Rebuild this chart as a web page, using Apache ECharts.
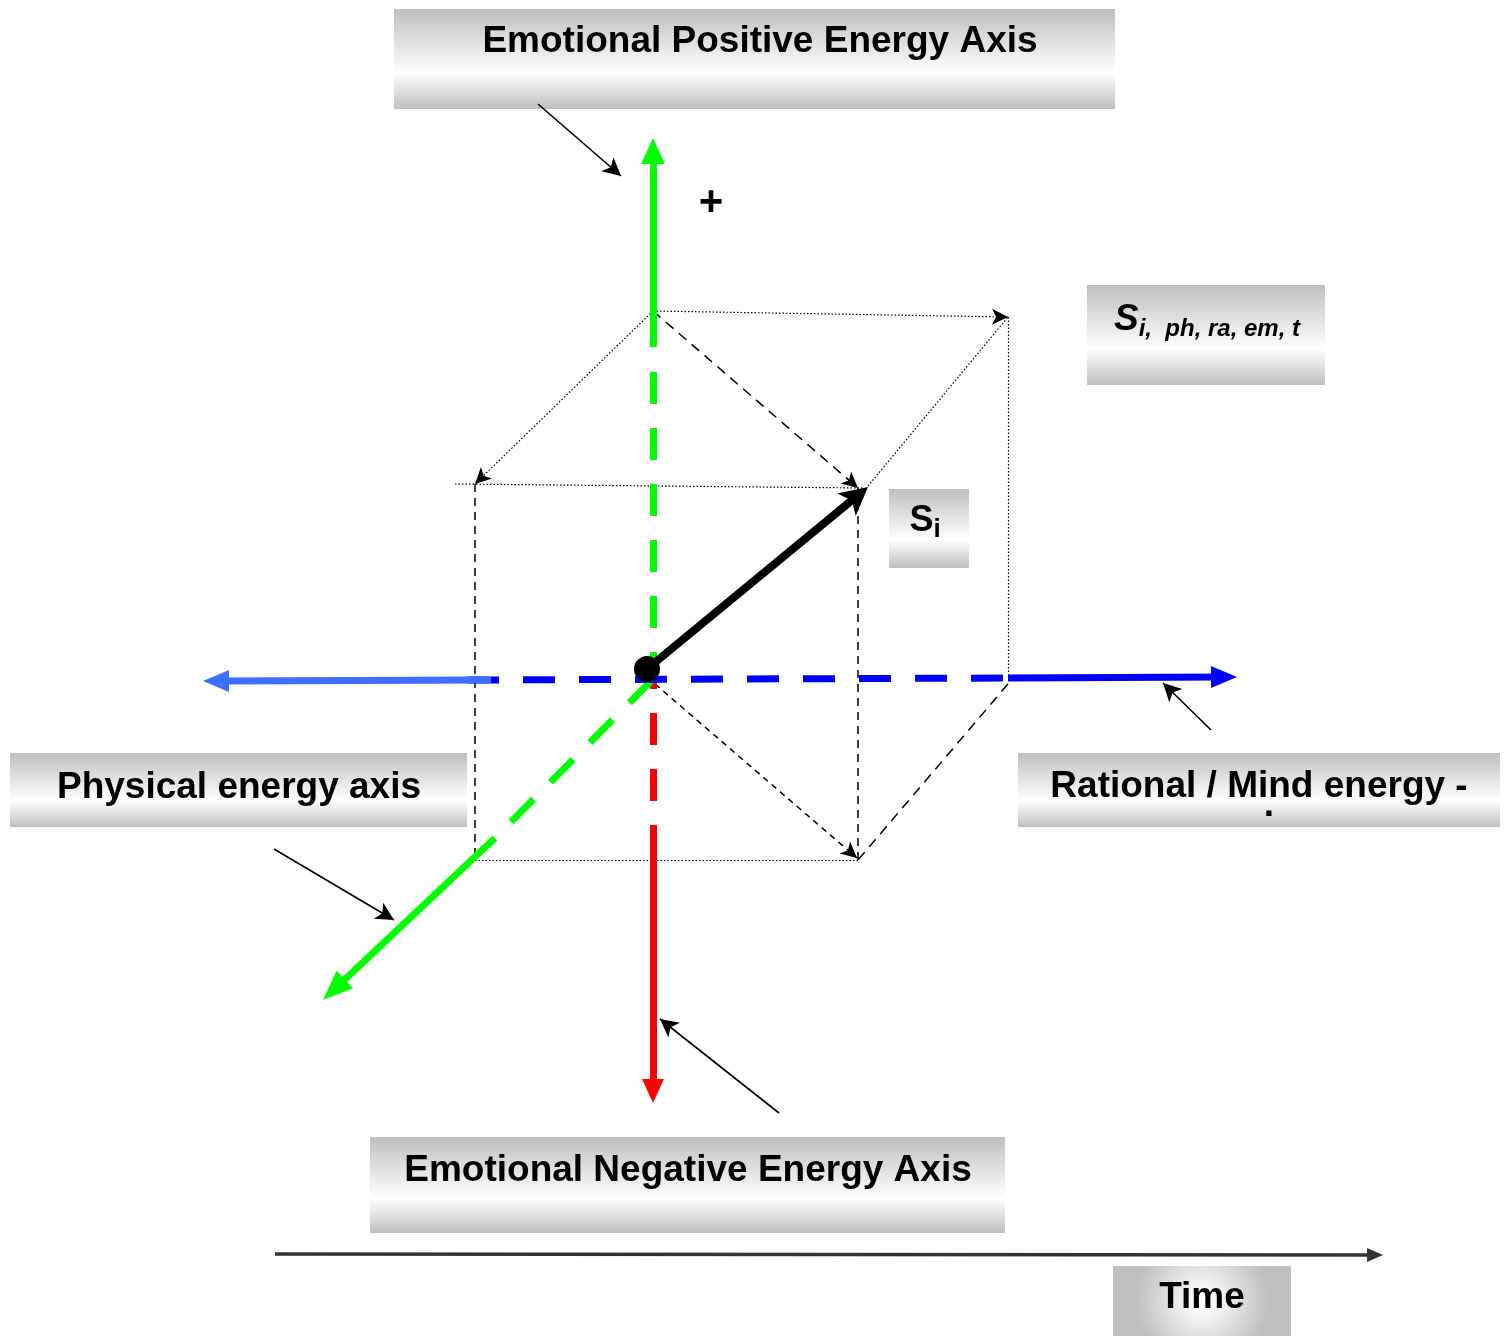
<!DOCTYPE html>
<html>
<head>
    <meta charset="utf-8"/>
    <title>Energy axes</title>
    <style>
        body { margin: 0; background: #fff; }
        #chart { width: 1508px; height: 1336px; }
    </style>
</head>
<body>
<div id="chart"></div>
<script src="https://cdn.jsdelivr.net/npm/echarts/dist/echarts.min.js"></script>
<script>
    // picture units: x to the right, y downwards (y axis is inverted)
    // corners of the projected cube
    var cubeA = [653, 311];   // top, on the emotional axis
    var cubeB = [1008, 317];  // top right back
    var cubeC = [475, 484];   // top left front
    var cubeD = [858, 488];   // top right front
    var cubeE = [475, 860];
    var cubeF = [858, 860];
    var cubeG = [1008, 678];  // on the rational axis
    var stateOrigin = [647, 669];
    var stateTip = [868, 487];

    // the four energy axes, split where they change from dashed to solid
    var emoPosSolid = [[653, 347], [653, 138]];
    var emoPosDash = [[653, 372], [653, 680]];
    var emoNegDash = [[653, 657], [653, 825]];
    var emoNegSolid = [[653, 825], [653, 1103]];
    var physDash = [[652, 680], [495, 838]];
    var physSolid = [[495, 838], [323, 1000]];
    var ratLeft = [[491, 680], [203, 681]];
    var ratDash = [[467, 680], [1008, 678]];
    var ratRight = [[1008, 678], [1237, 677]];
    var timeAxis = [[275, 1254], [1383, 1255]];

    // small arrows from the labels to the axes
    var pointers = [
        [[538, 104], [621, 176]],
        [[1211, 730], [1163, 683]],
        [[274, 849], [394, 920]],
        [[779, 1113], [660, 1019]]
    ];

    var boxNames = ['Emotional Positive Energy Axis', '{si|S}{sub|i,  ph, ra, em, t}', '{s|S}{sub2|i}',
        'Physical energy axis', 'Rational / Mind energy -', 'Emotional Negative Energy Axis', 'Time'];
    var boxRects = [[394, 9, 1115, 109], [1087, 285, 1325, 385], [889, 489, 969, 568],
        [10, 753, 467, 827], [1018, 753, 1500, 827], [370, 1137, 1005, 1233], [1113, 1266, 1291, 1336]];
    var boxTextAt = [[760, 42], [1207, 320], [925, 521], [239, 788], [1259, 787], [688, 1171], [1202, 1298]];

    var extraText = ['+', '.'];
    var extraAt = [[711, 203], [1269, 806]];
    var extraSize = [42, 37];

    var FONT = '"Liberation Sans", Arial, sans-serif';

    // move the line end back so that a centred head of length len ends on the tip
    function toHead(from, tip, len) {
        var dx = tip[0] - from[0], dy = tip[1] - from[1];
        var d = Math.sqrt(dx * dx + dy * dy);
        return [tip[0] - dx / d * len / 2, tip[1] - dy / d * len / 2];
    }

    function seg(from, to, style, head) {
        var item = {coords: [from, to], lineStyle: style};
        if (head) {
            // the 'arrow' symbol already ends on the line end, the triangle is centred on it
            if (head[2] === 'triangle') item.coords = [from, toHead(from, to, head[1])];
            item.symbol = ['none', head[2]];
            item.symbolSize = [0, [head[0], head[1]]];
        }
        return item;
    }

    var dotted = {color: '#000', width: 1.2, type: [1.5, 2], opacity: 1};
    var dashed = {color: '#000', width: 1.5, type: [8, 6], opacity: 1};
    var dashedLong = {color: '#000', width: 1.5, type: [10, 7], opacity: 1};
    var dashedShort = {color: '#000', width: 1.5, type: [6, 5], opacity: 1};
    var smallHead = [12, 16, 'arrow'];

    var cubeLines = [
        seg(cubeC, cubeE, dashed),
        seg(cubeD, cubeF, dashed),
        seg([455, 484], [864, 488], dotted),
        seg(cubeE, cubeF, dotted),
        seg([868, 486], cubeB, dotted),
        seg(cubeB, cubeG, dotted),
        seg([1008, 684], cubeF, dashedLong),
        seg(cubeA, cubeB, dotted, smallHead),
        seg(cubeA, cubeC, dotted, smallHead),
        seg(cubeA, cubeD, dashedLong, smallHead),
        seg([655, 684], [857, 858], dashedShort, smallHead)
    ];

    var green = '#00ff00', red = '#ff0000', blue = '#0000ff', lightBlue = '#3c6eff';
    var axisDash = [32, 24];
    function axisStyle(color, type) {
        return {color: color, width: 7, type: type, opacity: 1};
    }
    var axisLines = [
        seg(emoNegDash[0], emoNegDash[1], axisStyle(red, axisDash)),
        seg(emoNegSolid[0], emoNegSolid[1], axisStyle(red, 'solid'), [22, 24, 'triangle']),
        seg(emoPosSolid[0], emoPosSolid[1], axisStyle(green, 'solid'), [24, 26, 'triangle']),
        seg(emoPosDash[0], emoPosDash[1], axisStyle(green, axisDash)),
        seg(physDash[0], physDash[1], axisStyle(green, axisDash)),
        seg(physSolid[0], physSolid[1], axisStyle(green, 'solid'), [24, 30, 'triangle']),
        seg(ratDash[0], ratDash[1], axisStyle(blue, axisDash)),
        seg(ratRight[0], ratRight[1], axisStyle(blue, 'solid'), [22, 26, 'triangle']),
        seg(ratLeft[0], ratLeft[1], axisStyle(lightBlue, 'solid'), [22, 26, 'triangle'])
    ];

    var otherLines = [seg(timeAxis[0], timeAxis[1], {color: '#333', width: 3.5, type: 'solid', opacity: 1}, [14, 16, 'triangle'])];
    pointers.forEach(function (p) {
        otherLines.push(seg(p[0], p[1], {color: '#000', width: 1.6, type: 'solid', opacity: 1}, [14, 18, 'arrow']));
    });

    // the state vector: a thick shaft stopping inside the head, and the head itself
    var vectorLines = [
        seg(stateOrigin, toHead(stateOrigin, stateTip, 24), {color: '#000', width: 8, type: 'solid', opacity: 1}),
        seg(stateOrigin, stateTip, {color: '#000', width: 0, type: 'solid', opacity: 1}, [22, 28, 'arrow'])
    ];

    var linearFill = {
        type: 'linear', x: 0, y: 0, x2: 0, y2: 1,
        colorStops: [{offset: 0, color: '#bfbfbf'}, {offset: 0.64, color: '#ffffff'}, {offset: 1, color: '#bfbfbf'}]
    };
    var radialFill = {
        type: 'radial', x: 0.5, y: 0.5, r: 0.95,
        colorStops: [{offset: 0, color: '#ffffff'}, {offset: 0.25, color: '#f4f4f4'}, {offset: 1, color: '#bfbfbf'}]
    };
    var rich = {
        si: {fontSize: 37, fontWeight: 'bold', fontStyle: 'italic', fontFamily: FONT},
        sub: {fontSize: 24, fontWeight: 'bold', fontStyle: 'italic', fontFamily: FONT, padding: [19, 0, 0, 0]},
        s: {fontSize: 36, fontWeight: 'bold', fontFamily: FONT},
        sub2: {fontSize: 26, fontWeight: 'bold', fontFamily: FONT, padding: [17, 0, 0, 0]}
    };

    var myChart = echarts.init(document.getElementById('chart'));
    var option = {
        animation: false,
        backgroundColor: '#fff',
        grid: {left: 0, right: 0, top: 0, bottom: 0},
        xAxis: {type: 'value', min: 0, max: 1508, show: false},
        yAxis: {type: 'value', min: 0, max: 1336, inverse: true, show: false},
        series: [
            {
                type: 'custom',
                coordinateSystem: 'cartesian2d',
                silent: true,
                z: 1,
                clip: false,
                data: boxRects.map(function (b, i) {
                    return [b[0], b[1], b[2], b[3], boxTextAt[i][0], boxTextAt[i][1]];
                }),
                renderItem: function (params, api) {
                    var i = params.dataIndex;
                    var p1 = api.coord([api.value(0), api.value(1)]);
                    var p2 = api.coord([api.value(2), api.value(3)]);
                    var t = api.coord([api.value(4), api.value(5)]);
                    return {
                        type: 'group',
                        children: [{
                            type: 'rect',
                            shape: {x: p1[0], y: p1[1], width: p2[0] - p1[0], height: p2[1] - p1[1]},
                            style: {fill: i === boxNames.length - 1 ? radialFill : linearFill}
                        }, {
                            type: 'text',
                            x: t[0],
                            y: t[1],
                            style: {
                                text: boxNames[i],
                                fontSize: 37,
                                fontWeight: 'bold',
                                fontFamily: FONT,
                                fill: '#000',
                                align: 'center',
                                verticalAlign: 'middle',
                                rich: rich
                            }
                        }]
                    };
                }
            },
            {type: 'lines', coordinateSystem: 'cartesian2d', silent: true, z: 2, data: cubeLines},
            {type: 'lines', coordinateSystem: 'cartesian2d', silent: true, z: 3, data: axisLines},
            {type: 'lines', coordinateSystem: 'cartesian2d', silent: true, z: 3, data: otherLines},
            {type: 'lines', coordinateSystem: 'cartesian2d', silent: true, z: 4, data: vectorLines},
            {
                type: 'scatter', silent: true, z: 5, symbolSize: 26,
                itemStyle: {color: '#000', opacity: 1},
                data: [stateOrigin]
            },
            {
                type: 'custom',
                coordinateSystem: 'cartesian2d',
                silent: true,
                z: 5,
                data: extraAt,
                renderItem: function (params, api) {
                    var p = api.coord([api.value(0), api.value(1)]);
                    return {
                        type: 'text', x: p[0], y: p[1],
                        style: {
                            text: extraText[params.dataIndex], fontSize: extraSize[params.dataIndex], fontWeight: 'bold',
                            fontFamily: FONT, fill: '#000', align: 'center', verticalAlign: 'middle'
                        }
                    };
                }
            }
        ]
    };
    myChart.setOption(option);
</script>
</body>
</html>
